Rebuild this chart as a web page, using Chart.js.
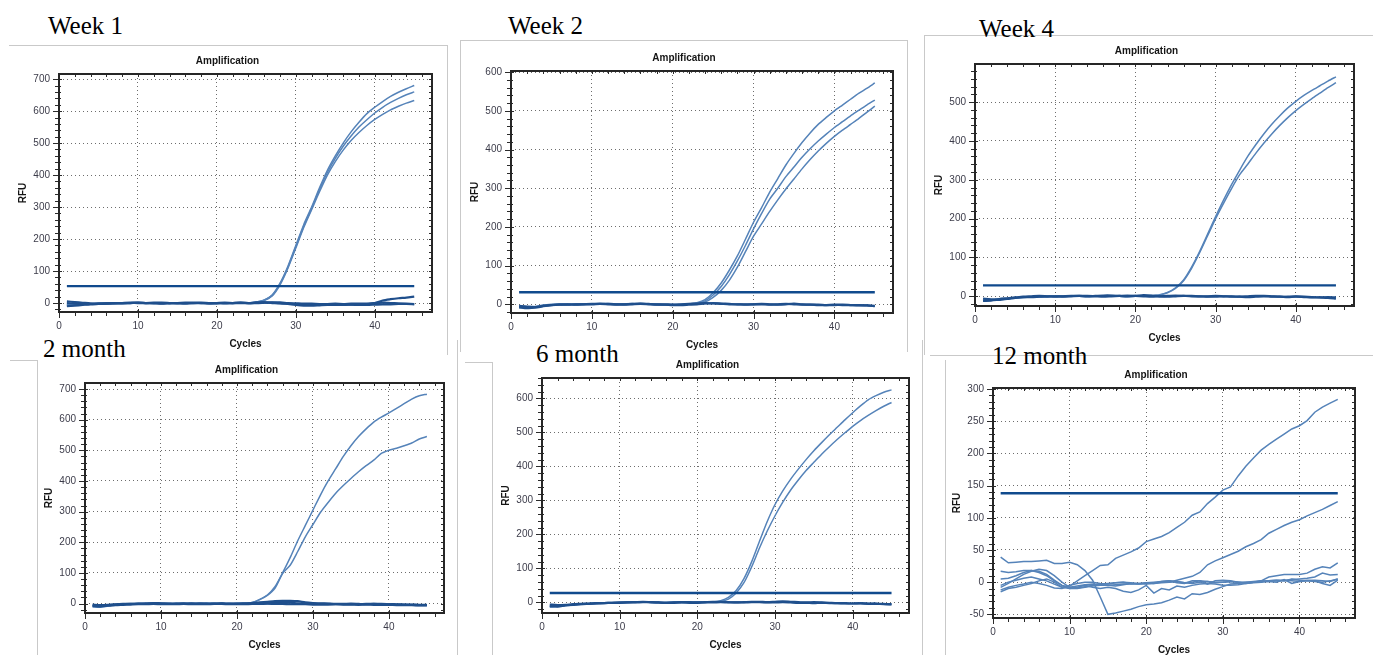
<!DOCTYPE html>
<html>
<head>
<meta charset="utf-8">
<script src="https://cdn.jsdelivr.net/npm/chart.js@4.4.0/dist/chart.umd.min.js"></script>
<style>
  body { margin: 0; background: #fff; width: 1373px; height: 655px; overflow: hidden; position: relative; }
  .lbl { position: absolute; font: 25px "Liberation Serif", "Times New Roman", serif; line-height: 25px; color: #000; white-space: nowrap; }
  .frame { position: absolute; border: 0 solid #c9c9c9; box-sizing: border-box; }
  canvas { position: absolute; }
</style>
</head>
<body>

<!-- screenshot frames -->
<div class="frame" style="left:9px;top:45px;width:439px;height:310px;border-top-width:1px;border-right-width:1px"></div>
<div class="frame" style="left:460px;top:40px;width:448px;height:312px;border-top-width:1px;border-left-width:1px;border-right-width:1px"></div>
<div class="frame" style="left:924px;top:35px;width:460px;height:320px;border-top-width:1px;border-left-width:1px"></div>
<div class="frame" style="left:10px;top:360px;width:28px;height:300px;border-top-width:1px;border-right-width:1px"></div>
<div class="frame" style="left:457px;top:340px;width:1px;height:320px;border-left-width:1px"></div>
<div class="frame" style="left:465px;top:362px;width:28px;height:300px;border-top-width:1px;border-right-width:1px"></div>
<div class="frame" style="left:922px;top:340px;width:1px;height:320px;border-left-width:1px"></div>
<div class="frame" style="left:930px;top:355px;width:450px;height:1px;border-top-width:1px"></div>
<div class="frame" style="left:945px;top:360px;width:1px;height:300px;border-left-width:1px"></div>

<div class="lbl" style="left:48px;top:13px">Week 1</div>
<div class="lbl" style="left:508px;top:13px">Week 2</div>
<div class="lbl" style="left:979px;top:16px">Week 4</div>
<div class="lbl" style="left:43px;top:336px">2 month</div>
<div class="lbl" style="left:536px;top:341px">6 month</div>
<div class="lbl" style="left:992px;top:343px">12 month</div>

<canvas id="p1"></canvas>
<canvas id="p2"></canvas>
<canvas id="p3"></canvas>
<canvas id="p4"></canvas>
<canvas id="p5"></canvas>
<canvas id="p6"></canvas>

<script>
// cycles on the x axis
const cycles = [1,2,3,4,5,6,7,8,9,10,11,12,13,14,15,16,17,18,19,20,21,22,23,24,25,26,27,28,29,30,31,32,33,34,35,36,37,38,39,40,41,42,43,44,45];

// ---- Week 1 ----
const week1Thr = 53;
const week1Amp1 = [-6,-4,-3,-2,-1,-1,0,0,1,0, 0,1,0,-1,0,1,0,0,-1,0, 0,1,0,1,3,10,25,62,115,180, 245,300,360,415,460,500,535,565,592,612, 630,646,659,670,680];
const week1Amp2 = [-9,-7,-5,-3,-2,-1,-1,0,0,1, 0,0,-1,0,1,0,-1,0,0,1, 0,0,1,0,3,9,24,60,112,176, 240,296,355,408,452,490,522,550,573,594, 612,627,640,651,660];
const week1Amp3 = [-4,-5,-4,-2,-1,0,0,1,0,0, -1,0,1,0,0,0,1,0,0,0, 1,0,0,1,2,8,22,57,109,172, 236,292,348,400,442,478,508,533,555,574, 590,604,615,625,633];
const week1Base1 = [5,3,1,-1,-2,-2,-1,0,1,0, 0,1,1,0,-1,-2,0,1,0,0, -1,0,1,0,1,2,1,0,-2,-4, -5,-5,-6,-5,-5,-6,-5,-4,-3,0, 8,12,15,17,20];
const week1Base2 = [-10,-8,-6,-4,-3,-2,-1,-1,0,1, 0,-1,-2,-1,0,0,1,0,-1,0, 1,0,0,0,1,2,0,-1,-3,-6, -8,-8,-7,-6,-6,-5,-5,-6,-6,-5, -4,-4,-3,-3,-4];
const week1Base3 = [0,-2,-3,-3,-2,-1,0,0,0,1, 0,0,-1,0,0,1,0,0,-1,-1, 0,0,1,0,0,1,2,2,0,-1, -2,-2,-3,-3,-2,-3,-2,-2,-2,0, 1,0,-1,-2,-3];

// ---- Week 2 ----
const week2Thr = 31;
const week2Amp1 = [-6,-8,-7,-3,-1,0,-1,0,1,0, 1,2,1,0,1,2,1,0,-1,-2, 0,1,4,12,30,55,88,125,168,212, 250,290,325,360,390,418,443,465,483,500, 515,530,545,558,572];
const week2Amp2 = [-8,-9,-6,-2,0,1,0,-1,0,1, 2,1,0,1,2,1,0,-1,-1,0, -1,0,3,9,24,46,76,112,152,195, 235,272,300,330,355,380,402,422,440,457, 472,487,501,515,528];
const week2Amp3 = [-5,-7,-6,-3,-1,0,0,1,0,0, 1,1,0,0,1,1,0,0,-1,-1, -1,0,2,6,18,36,62,96,136,176, 208,240,270,298,324,350,374,396,416,434, 450,465,480,496,512];
const week2Base1 = [-8,-10,-9,-5,-2,-1,0,-1,0,1, 1,0,-1,0,1,2,1,0,0,-1, 0,1,2,3,2,1,0,0,-1,0, 1,0,-1,0,2,0,-1,-1,-2,-2, -1,-2,-3,-3,-5];
const week2Base2 = [-4,-6,-7,-4,-2,-1,-1,0,0,0, 1,1,0,-1,0,1,0,-1,-1,-2, -2,-1,0,2,3,2,1,0,0,0, 0,-1,0,1,0,-1,-1,-2,-2,-1, -2,-2,-2,-3,-4];

// ---- Week 4 ----
const week4Thr = 28;
const week4Amp1 = [-10,-9,-8,-6,-4,-3,-2,-1,-1,0, 0,1,0,-1,0,1,1,0,-1,0, 1,2,4,10,22,42,75,115,160,205, 248,288,325,360,390,418,443,465,485,502, 517,530,542,554,565];
const week4Amp2 = [-12,-10,-9,-7,-5,-3,-2,-2,-1,0, 0,0,1,0,0,1,2,1,0,0, 0,1,3,9,20,40,72,112,156,200, 240,278,313,340,368,394,418,440,460,478, 494,509,523,537,550];
const week4Base1 = [-6,-8,-7,-5,-3,-1,0,1,0,-1, 0,1,1,0,1,2,2,1,0,1, 3,2,0,-1,0,1,1,0,0,1, 0,-1,-1,0,1,1,0,-1,-1,0, -1,-2,-3,-4,-6];
const week4Base2 = [-12,-11,-9,-7,-4,-2,-2,-1,0,0, -1,0,1,1,0,-1,0,1,2,1, 0,-1,0,1,2,1,0,0,-1,-1, 0,0,-1,-2,-1,0,-1,-1,-2,-1, -2,-3,-3,-2,-3];

// ---- 2 month ----
const month2Amp1 = [-8,-10,-6,-3,-2,-1,0,1,2,1, 0,0,1,1,0,1,1,0,0,1, 1,4,14,28,55,100,150,205,255,305, 355,400,440,480,515,545,570,592,608,622, 637,652,667,678,683];
const month2Amp2 = [-10,-12,-8,-4,-2,-1,0,0,1,0, 0,1,0,0,1,1,0,1,0,0, 1,4,13,27,50,98,125,170,218,258, 298,330,360,385,408,430,450,468,490,500, 507,515,524,537,545];
const month2Base1 = [-6,-8,-5,-3,-2,-1,-1,0,2,1, 0,-1,0,1,0,-1,0,1,0,0, 1,2,4,6,8,9,9,8,4,2, 1,0,-1,-1,0,-1,-2,-1,-1,-2, -3,-3,-4,-5,-5];
const month2Base2 = [-3,-5,-4,-2,-1,-1,0,0,-1,-1, -1,0,0,-1,0,0,-1,0,-1,-1, -1,0,0,1,2,3,3,1,0,0, -1,-1,-2,-2,-2,-2,-1,-1,-2,-2, -2,-3,-3,-4,-4];
const month2Base3 = [-8,-9,-7,-5,-4,-3,-2,-2,-1,-2, -2,-2,-1,-2,-2,-2,-1,-1,-2,-2, -2,-1,-1,0,-1,-1,-2,-2,-2,-3, -3,-3,-2,-3,-3,-4,-3,-4,-4,-4, -5,-5,-5,-6,-6];

// ---- 6 month ----
const month6Thr = 28;
const month6Amp1 = [-12,-10,-8,-6,-5,-4,-3,-2,-1,0, 1,2,1,0,-1,0,1,0,1,2, 1,1,5,15,35,70,120,180,238,288, 328,362,392,420,446,470,493,515,537,558, 578,596,608,618,625];
const month6Amp2 = [-14,-12,-10,-8,-6,-4,-3,-2,-2,-1, 0,1,1,0,0,0,1,1,0,1, 0,1,3,10,28,58,105,160,210,255, 295,330,360,388,412,436,458,479,499,518, 535,550,564,577,588];
const month6Base1 = [-10,-12,-9,-7,-5,-4,-3,-2,-1,0, 0,1,2,1,0,-1,0,1,1,0, 1,2,2,1,0,1,2,2,1,2, 3,2,1,0,1,0,-1,-2,-2,-3, -2,-3,-3,-4,-6];
const month6Base2 = [-6,-8,-7,-5,-4,-3,-2,-2,-1,-1, 0,0,1,1,0,-1,-1,0,-1,-1, 0,0,1,0,0,0,1,1,0,0, 1,0,-1,-1,-2,-1,-2,-2,-3,-3, -3,-4,-4,-5,-5];

// ---- 12 month ----
const month12Thr = 138;
const month12A = [-12,-8,-5,-3,0,-2,-5,-9,-10,-6, 2,10,18,26,27,37,42,47,53,63, 67,71,77,85,93,104,109,122,132,143, 148,165,180,193,205,214,222,230,238,243, 251,264,272,278,284];
const month12B = [17,15,16,18,18,15,10,2,-5,-8, -6,-4,-3,-4,-5,-6,-4,-2,-3,-2, -1,0,0,3,6,9,15,27,33,38, 43,48,55,60,66,76,82,88,93,97, 103,108,113,119,125];
const month12C = [5,6,10,15,18,17,12,3,-5,-10, -10,-8,-6,-5,-5,-4,-3,-3,-2,-3, -2,-1,0,1,-1,-2,0,1,0,0, 1,0,0,1,2,8,10,12,12,12, 14,20,24,22,30];
const month12D = [-8,-2,5,12,17,20,18,10,0,-8, -9,-7,-5,-3,-2,-1,0,-1,-2,-1, 0,1,2,1,-1,0,2,1,-1,0, 1,0,-1,0,1,2,3,2,4,5, 6,8,14,11,12];
const month12E = [-15,-10,-8,-5,-2,2,5,0,-8,-10, -8,-5,-8,-10,-8,-10,-14,-16,-12,-5, -17,-10,-12,-6,-8,-5,-3,-2,-3,-5, -5,-4,-2,-1,0,1,2,3,2,1, 2,3,2,1,5];
const month12F = [-5,0,3,6,8,5,2,-3,-8,-5, -2,0,0,-2,-3,-1,0,-2,-3,-1, -2,1,2,-1,-2,2,2,-3,2,3, 2,0,-2,0,2,1,0,4,-2,1, 3,2,-2,-5,3];
const month12G = [39,30,31,32,32,33,34,29,29,31, 27,18,3,-23,-50,-48,-45,-42,-38,-35, -34,-32,-28,-23,-26,-18,-19,-16,-11,-7, -3,-2,0,0,1,2,3,2,5,3, 2,1,0,2,5];

// ---------- look ----------
const AMP_COLOR  = '#5583b9';
const BASE_COLOR = '#1f4f8c';
const THR_COLOR  = '#104a8d';
const X_MAX = 47.25;

// plot area in page pixels [left, top, right, bottom] and y range
const panels = [
  { id: 'p1', box: [59, 74, 432, 312],  y: [-28, 716],   major: 100, minor: 20, thr: week1Thr,  amps: [week1Amp1, week1Amp2, week1Amp3], base: [week1Base1, week1Base2, week1Base3] },
  { id: 'p2', box: [511, 71, 893, 313], y: [-22.5, 603], major: 100, minor: 20, thr: week2Thr,  amps: [week2Amp1, week2Amp2, week2Amp3], base: [week2Base1, week2Base2] },
  { id: 'p3', box: [975, 64, 1354, 306], y: [-25, 598],  major: 100, minor: 20, thr: week4Thr,  amps: [week4Amp1, week4Amp2], base: [week4Base1, week4Base2] },
  { id: 'p4', box: [85, 383, 444, 613], y: [-30.6, 719.6], major: 100, minor: 20, thr: null,    amps: [month2Amp1, month2Amp2], base: [month2Base1, month2Base2, month2Base3] },
  { id: 'p5', box: [542, 378, 909, 613], y: [-31, 660],  major: 100, minor: 20, thr: month6Thr, amps: [month6Amp1, month6Amp2], base: [month6Base1, month6Base2] },
  { id: 'p6', box: [993, 388, 1355, 618], y: [-55.7, 301.6], major: 50, minor: 10, thr: month12Thr, amps: [month12A, month12B, month12C, month12D, month12E, month12F, month12G], base: [], tension: 0 }
];

const PAD_L = 60, PAD_T = 28, PAD_R = 10, PAD_B = 45;
const FONT = '"Liberation Sans", Arial, sans-serif';

// major ticks on round steps only (stepSize alone snaps odd ranges to even spacing)
function roundTicks(step) {
  return function (scale) {
    const out = [];
    for (let v = Math.ceil(scale.min / step) * step; v <= scale.max; v += step) out.push({ value: v });
    scale.ticks = out;
  };
}

// frame, minor ticks and the CFX style titles
const cfxFrame = {
  id: 'cfxFrame',
  afterDraw(chart, args, o) {
    const { ctx, chartArea: a, scales: { x, y } } = chart;
    ctx.save();
    ctx.strokeStyle = '#2b2b2b';
    ctx.lineWidth = 1;
    ctx.beginPath();
    for (let v = 0; v <= x.max; v += 2) {
      const px = Math.round(x.getPixelForValue(v)) + 0.5;
      const major = v % 10 === 0;
      ctx.moveTo(px, a.bottom - (major ? 3 : 1)); ctx.lineTo(px, a.bottom + (major ? 6 : 4));
      ctx.moveTo(px, a.top); ctx.lineTo(px, a.top + 3);
    }
    for (let v = Math.ceil(y.min / o.minor) * o.minor; v <= y.max; v += o.minor) {
      const py = Math.round(y.getPixelForValue(v)) + 0.5;
      const major = v % o.major === 0;
      ctx.moveTo(a.left - (major ? 6 : 4), py); ctx.lineTo(a.left + (major ? 3 : 2), py);
      ctx.moveTo(a.right - 3, py); ctx.lineTo(a.right, py);
    }
    ctx.stroke();

    ctx.lineWidth = 2;
    ctx.strokeStyle = '#262626';
    ctx.strokeRect(a.left, a.top, a.right - a.left, a.bottom - a.top);

    ctx.fillStyle = '#151515';
    ctx.font = 'bold 10px ' + FONT;
    ctx.textAlign = 'center';
    ctx.textBaseline = 'middle';
    const cx = (a.left + a.right) / 2;
    ctx.fillText('Amplification', cx - 18, a.top - 13);
    ctx.fillText('Cycles', cx, a.bottom + 32);
    ctx.translate(a.left - 36, (a.top + a.bottom) / 2);
    ctx.rotate(-Math.PI / 2);
    ctx.fillText('RFU', 0, 0);
    ctx.restore();
  }
};

function buildPanel(p) {
  const [L, T, R, B] = p.box;
  const cv = document.getElementById(p.id);
  const w = R - L + PAD_L + PAD_R;
  const h = B - T + PAD_T + PAD_B;
  cv.width = w; cv.height = h;
  cv.style.left = (L - PAD_L) + 'px';
  cv.style.top = (T - PAD_T) + 'px';
  cv.style.width = w + 'px';
  cv.style.height = h + 'px';

  const tension = p.tension ?? 0.25;
  const datasets = [];
  if (p.thr != null) {
    datasets.push({ data: [{ x: 1, y: p.thr }, { x: 45, y: p.thr }], borderColor: THR_COLOR, borderWidth: 2.4, pointRadius: 0 });
  }
  for (const b of p.base) {
    datasets.push({ data: b, borderColor: BASE_COLOR, borderWidth: 2.2, pointRadius: 0, tension });
  }
  for (const s of p.amps) {
    datasets.push({ data: s, borderColor: AMP_COLOR, borderWidth: 1.5, pointRadius: 0, tension });
  }

  new Chart(cv, {
    type: 'line',
    data: { labels: cycles, datasets },
    options: {
      responsive: false,
      animation: false,
      events: [],
      layout: { padding: { left: 0, top: PAD_T, right: PAD_R, bottom: 0 } },
      plugins: { legend: { display: false }, tooltip: { enabled: false }, cfxFrame: { major: p.major, minor: p.minor } },
      scales: {
        x: {
          type: 'linear', min: 0, max: X_MAX,
          afterFit(s) { s.height = PAD_B; },
          afterBuildTicks: roundTicks(10),
          grid: { color: '#6d6d6d', lineWidth: 1, drawTicks: false },
          border: { display: false, dash: [1, 3] },
          ticks: { padding: 8, maxRotation: 0, autoSkip: false,
                   color: '#3c3c4a', font: { family: FONT, size: 10 } }
        },
        y: {
          min: p.y[0], max: p.y[1],
          afterFit(s) { s.width = PAD_L; },
          afterBuildTicks: roundTicks(p.major),
          grid: { color: '#6d6d6d', lineWidth: 1, drawTicks: false },
          border: { display: false, dash: [1, 3] },
          ticks: { padding: 9, autoSkip: false,
                   color: '#3c3c4a', font: { family: FONT, size: 10 } }
        }
      }
    },
    plugins: [cfxFrame]
  });
}

panels.forEach(buildPanel);
</script>
</body>
</html>
